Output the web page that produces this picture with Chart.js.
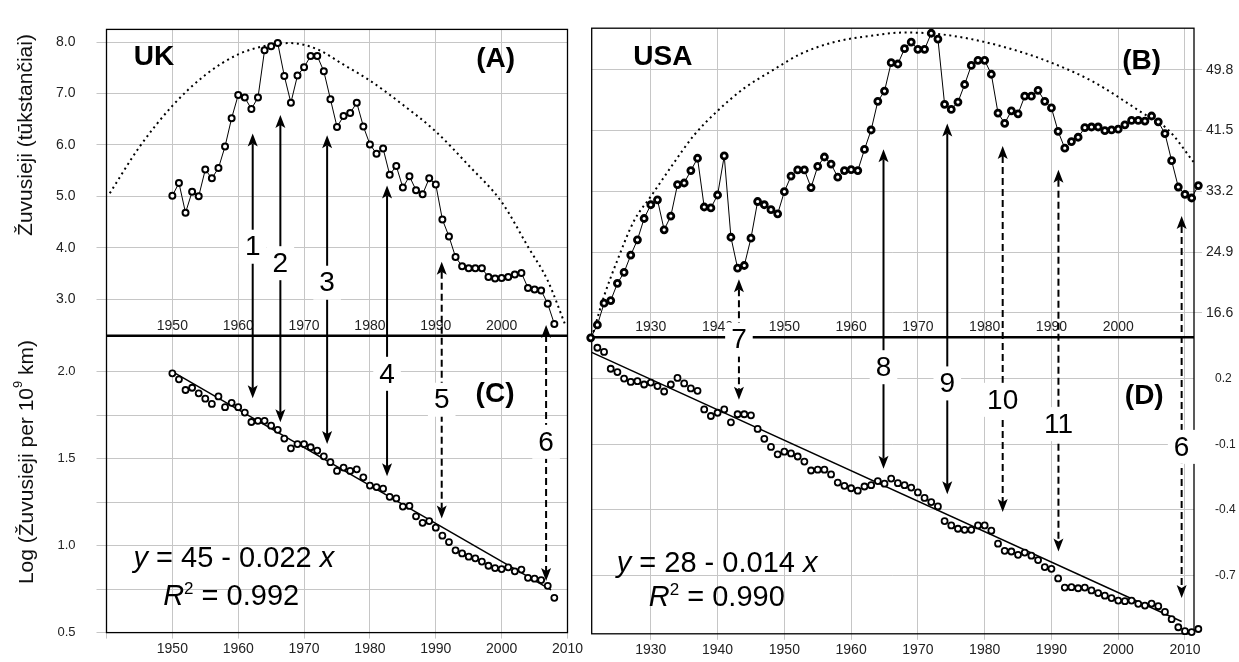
<!DOCTYPE html>
<html>
<head>
<meta charset="utf-8">
<script src="https://cdn.jsdelivr.net/npm/chart.js@4.4.0/dist/chart.umd.min.js"></script>
<style>
  html, body { margin: 0; padding: 0; background: #fff; }
  #wrap { position: relative; width: 1239px; height: 662px; }
  #wrap canvas { position: absolute; left: 0; top: 0; }
</style>
</head>
<body>
<div id="wrap">
  <canvas id="ukChart" width="1239" height="662"></canvas>
  <canvas id="usChart" width="1239" height="662"></canvas>
</div>
<script>
/* ---------- data ---------- */
// UK, 1950-2008
const ukYears = [1950,1951,1952,1953,1954,1955,1956,1957,1958,1959,
  1960,1961,1962,1963,1964,1965,1966,1967,1968,1969,
  1970,1971,1972,1973,1974,1975,1976,1977,1978,1979,
  1980,1981,1982,1983,1984,1985,1986,1987,1988,1989,
  1990,1991,1992,1993,1994,1995,1996,1997,1998,1999,
  2000,2001,2002,2003,2004,2005,2006,2007,2008];
// (A) deaths, thousands
const ukDeaths = [5.01,5.26,4.68,5.09,5.00,5.52,5.35,5.55,5.97,6.52,
  6.97,6.92,6.70,6.92,7.84,7.92,7.98,7.34,6.82,7.35,
  7.51,7.73,7.73,7.43,6.89,6.35,6.56,6.62,6.82,6.36,
  6.01,5.83,5.93,5.42,5.59,5.17,5.39,5.12,5.04,5.35,
  5.23,4.55,4.22,3.82,3.64,3.60,3.60,3.60,3.43,3.40,
  3.41,3.43,3.48,3.51,3.22,3.19,3.17,2.91,2.52];
// (C) log deaths per 10^9 km
const ukLogRate = [1.99,1.955,1.894,1.907,1.875,1.844,1.814,1.857,1.795,1.820,
  1.795,1.764,1.71,1.717,1.717,1.689,1.665,1.615,1.559,1.583,
  1.583,1.565,1.546,1.513,1.479,1.429,1.448,1.429,1.438,1.392,
  1.345,1.336,1.327,1.28,1.271,1.224,1.228,1.168,1.131,1.141,
  1.103,1.057,1.02,0.973,0.955,0.936,0.927,0.908,0.884,0.871,
  0.865,0.875,0.852,0.862,0.815,0.810,0.802,0.769,0.70];
// dotted fitted curve in (A)
const ukFitX = [1940.5,1945,1950,1955,1960,1965,1968,1972,1976,1980,1985,1990,1995,2000,2004,2007,2009.6];
const ukFitY = [5.06,5.96,6.76,7.36,7.76,7.95,7.98,7.86,7.56,7.25,6.78,6.26,5.60,4.89,4.02,3.36,2.52];
// regression line in (C)
const ukTrendX = [1950, 2007.5];
const ukTrendY = [2.0, 0.745];

// USA, 1920-2012
const usYears = [1920,1921,1922,1923,1924,1925,1926,1927,1928,1929,
  1930,1931,1932,1933,1934,1935,1936,1937,1938,1939,
  1940,1941,1942,1943,1944,1945,1946,1947,1948,1949,
  1950,1951,1952,1953,1954,1955,1956,1957,1958,1959,
  1960,1961,1962,1963,1964,1965,1966,1967,1968,1969,
  1970,1971,1972,1973,1974,1975,1976,1977,1978,1979,
  1980,1981,1982,1983,1984,1985,1986,1987,1988,1989,
  1990,1991,1992,1993,1994,1995,1996,1997,1998,1999,
  2000,2001,2002,2003,2004,2005,2006,2007,2008,2009,
  2010,2011,2012];
// (B) deaths, thousands
const usDeaths = [13.1,13.2,14.96,17.93,18.29,20.64,22.15,24.5,26.59,29.5,
  31.38,32.05,27.96,29.83,34.13,34.35,36.04,37.73,31.07,30.94,
  32.71,38.04,26.94,22.72,23.08,26.81,31.82,31.38,30.71,30.14,
  33.16,35.29,36.13,36.13,33.73,36.62,37.9,36.93,35.15,36.04,
  36.17,36.04,38.93,41.59,45.5,46.9,50.78,50.6,52.7,53.6,
  52.6,52.6,54.8,54.0,45.1,44.4,45.4,47.8,50.4,51.1,
  51.1,49.2,43.9,42.5,44.2,43.8,46.2,46.2,47.0,45.5,
  44.6,41.4,39.1,40.0,40.6,41.9,42.0,42.0,41.5,41.6,
  41.7,42.3,42.9,42.9,42.8,43.5,42.7,41.1,37.4,33.8,
  32.8,32.3,34.0];
// (D) log deaths per 10^9 km, 1922-2012
const usRateYears = usYears.slice(2);
const usLogRate = [0.341,0.322,0.245,0.230,0.200,0.185,0.188,0.173,
  0.182,0.166,0.141,0.173,0.203,0.178,0.155,0.144,0.059,0.029,
  0.044,0.059,0.0,0.037,0.037,0.032,-0.030,-0.075,-0.112,-0.146,
  -0.134,-0.142,-0.156,-0.179,-0.220,-0.216,-0.216,-0.238,-0.275,-0.290,
  -0.301,-0.312,-0.293,-0.287,-0.268,-0.280,-0.257,-0.278,-0.287,-0.298,
  -0.320,-0.345,-0.364,-0.384,-0.451,-0.471,-0.486,-0.491,-0.491,-0.471,
  -0.471,-0.495,-0.554,-0.587,-0.590,-0.605,-0.595,-0.609,-0.629,-0.661,
  -0.669,-0.713,-0.755,-0.753,-0.758,-0.755,-0.768,-0.780,-0.792,-0.803,
  -0.814,-0.817,-0.814,-0.829,-0.837,-0.828,-0.840,-0.866,-0.899,-0.936,
  -0.954,-0.958,-0.944];
const usFitX = [1921.4,1923,1925,1927.5,1930,1933,1936.5,1940,1944,1948,1952.5,1957.5,1962.5,1968,1973,1978,1983,1988.5,1996,2003.5,2007.5,2011.3];
const usFitY = [14.0,18.9,23.8,29.2,32.5,36.5,40.9,44.2,47.3,49.6,52.0,53.6,54.4,54.9,54.7,54.0,52.9,51.3,48.3,44.0,41.6,37.2];
const usTrendX = [1921.15, 2009.5];
const usTrendY = [0.32, -0.91];

// axis ticks
const ukXTicks = [1940,1950,1960,1970,1980,1990,2000,2010];
const ukTopYears = [1950,1960,1970,1980,1990,2000];
const usXTicks = [1930,1940,1950,1960,1970,1980,1990,2000,2010];
const usTopYears = [1930,1940,1950,1960,1970,1980,1990,2000];
const ukDeathTicks = [3,4,5,6,7,8];
const ukRateTicks = [0.5,0.75,1.0,1.25,1.5,1.75,2.0];
const usDeathTicks = [16.6,24.9,33.2,41.5,49.8];
const usRateTicks = [0.2,-0.1,-0.4,-0.7];

// numbered arrows: year, top end (upper panel), bottom end (lower panel), label height
const ukArrows = [
  {n:'1', x:1962.2, top:6.22, bot:1.847, ly:4.02, lp:'yA', dash:false},
  {n:'2', x:1966.4, top:6.58, bot:1.708, ly:3.70, lp:'yA', dash:false},
  {n:'3', x:1973.5, top:6.19, bot:1.583, ly:3.32, lp:'yA', dash:false},
  {n:'4', x:1982.6, top:5.21, bot:1.398, ly:1.987, lp:'yC', dash:false},
  {n:'5', x:1990.9, top:3.73, bot:1.156, ly:1.838, lp:'yC', dash:true},
  {n:'6', x:2006.75, top:2.50, bot:0.797, ly:1.596, lp:'yC', dash:true}
];
const usArrows = [
  {n:'7', x:1943.2, top:21.21, bot:0.103, ly:0.378, lp:'yD', dash:true},
  {n:'8', x:1964.85, top:38.95, bot:-0.212, ly:0.252, lp:'yD', dash:false},
  {n:'9', x:1974.4, top:42.49, bot:-0.328, ly:0.178, lp:'yD', dash:false},
  {n:'10', x:1982.7, top:39.39, bot:-0.409, ly:0.103, lp:'yD', dash:true},
  {n:'11', x:1991.05, top:36.16, bot:-0.590, ly:-0.008, lp:'yD', dash:true},
  {n:'6', x:2009.5, top:29.85, bot:-0.803, ly:-0.112, lp:'yD', dash:true}
];

const ukFit = {a:'45', b:'0.022', r2:'0.992'};
const usFit = {a:'28', b:'0.014', r2:'0.990'};

/* ---------- drawing helpers ---------- */
const FONT = "'Liberation Sans', Arial, sans-serif";
const GRID = '#c6c6c6';
Chart.defaults.font.family = FONT;
Chart.defaults.color = '#222';

const pts = (xs, ys) => xs.map((x, i) => ({x: x, y: ys[i]}));

function partsWidth(ctx, parts, size) {
  let w = 0;
  for (const [t, st] of parts) {
    const fs = st === 'sup' ? Math.round(size * 0.6) : size;
    ctx.font = (st === 'i' ? 'italic ' : '') + fs + 'px ' + FONT;
    w += ctx.measureText(t).width;
  }
  return w;
}

function drawParts(ctx, x, y, parts, size) {
  let cx = x;
  for (const [t, st] of parts) {
    const fs = st === 'sup' ? Math.round(size * 0.6) : size;
    ctx.font = (st === 'i' ? 'italic ' : '') + fs + 'px ' + FONT;
    ctx.fillText(t, cx, st === 'sup' ? y - size * 0.4 : y);
    cx += ctx.measureText(t).width;
  }
}

function vTitle(ctx, parts, cx, cy, size) {
  const w = partsWidth(ctx, parts, size);
  ctx.save();
  ctx.translate(cx, cy);
  ctx.rotate(-Math.PI / 2);
  ctx.textAlign = 'left';
  ctx.textBaseline = 'middle';
  ctx.fillStyle = '#111';
  drawParts(ctx, -w / 2, 0, parts, size);
  ctx.restore();
}

function arrow(ctx, x, y1, y2, dashed) {
  const hl = 13, hw = 5;
  ctx.save();
  ctx.strokeStyle = '#000';
  ctx.fillStyle = '#000';
  ctx.lineWidth = 2;
  ctx.setLineDash(dashed ? [7, 4] : []);
  ctx.beginPath();
  ctx.moveTo(x, y1 + hl - 3);
  ctx.lineTo(x, y2 - hl + 3);
  ctx.stroke();
  ctx.setLineDash([]);
  ctx.beginPath();
  ctx.moveTo(x, y1); ctx.lineTo(x - hw, y1 + hl); ctx.lineTo(x, y1 + hl - 3); ctx.lineTo(x + hw, y1 + hl);
  ctx.closePath(); ctx.fill();
  ctx.beginPath();
  ctx.moveTo(x, y2); ctx.lineTo(x - hw, y2 - hl); ctx.lineTo(x, y2 - hl + 3); ctx.lineTo(x + hw, y2 - hl);
  ctx.closePath(); ctx.fill();
  ctx.restore();
}

function boxedNumber(ctx, t, x, y) {
  ctx.save();
  ctx.font = '28px ' + FONT;
  const w = ctx.measureText(t).width + 12;
  ctx.fillStyle = '#fff';
  ctx.fillRect(x - w / 2, y - 17, w, 34);
  ctx.fillStyle = '#000';
  ctx.textAlign = 'center';
  ctx.textBaseline = 'middle';
  ctx.fillText(t, x, y + 1);
  ctx.restore();
}

function decor(cfg) {
  return {
    id: 'decor',
    beforeDatasetsDraw(chart) {
      const {ctx, chartArea: a, scales} = chart;
      const yDiv = scales[cfg.top].bottom;
      ctx.save();
      ctx.font = '14px ' + FONT;
      ctx.fillStyle = '#222';
      ctx.textAlign = 'center';
      ctx.textBaseline = 'middle';
      cfg.topYears.forEach(v => ctx.fillText(String(v), scales.x.getPixelForValue(v), yDiv - 10));
      ctx.strokeStyle = '#000';
      ctx.lineWidth = 1.3;
      ctx.strokeRect(a.left, a.top, a.right - a.left, a.bottom - a.top);
      ctx.lineWidth = 2.5;
      ctx.beginPath();
      ctx.moveTo(a.left, yDiv);
      ctx.lineTo(a.right, yDiv);
      ctx.stroke();
      ctx.restore();
    },
    afterDatasetsDraw(chart) {
      const {ctx, scales} = chart;
      const sx = scales.x, sTop = scales[cfg.top], sBot = scales[cfg.bottom];
      cfg.arrows.forEach(r => {
        arrow(ctx, sx.getPixelForValue(r.x), sTop.getPixelForValue(r.top), sBot.getPixelForValue(r.bot), r.dash);
      });
      cfg.arrows.forEach(r => {
        boxedNumber(ctx, r.n, sx.getPixelForValue(r.x), scales[r.lp].getPixelForValue(r.ly));
      });
      ctx.save();
      ctx.fillStyle = '#000';
      ctx.textAlign = 'center';
      ctx.textBaseline = 'middle';
      ctx.font = 'bold 28px ' + FONT;
      cfg.names.forEach(p => ctx.fillText(p.t, sx.getPixelForValue(p.x), scales[p.s].getPixelForValue(p.y)));
      ctx.textAlign = 'left';
      ctx.textBaseline = 'alphabetic';
      const e = cfg.eq;
      drawParts(ctx, sx.getPixelForValue(e.x1), sBot.getPixelForValue(e.y1),
        [['y', 'i'], [' = ' + e.fit.a + ' - ' + e.fit.b + ' ', ''], ['x', 'i']], 29);
      drawParts(ctx, sx.getPixelForValue(e.x2), sBot.getPixelForValue(e.y2),
        [['R', 'i'], ['2', 'sup'], [' = ' + e.fit.r2, '']], 29);
      ctx.restore();
      if (cfg.titles) {
        vTitle(ctx, [['Žuvusieji (tūkstančiai)', '']], 26.5, 135, 21);
        vTitle(ctx, [['Log (Žuvusieji per 10', ''], ['9', 'sup'], [' km)', '']], 27, 462, 21);
      }
    }
  };
}

function yearTicks(list) {
  return s => { s.ticks = list.map(v => ({value: v})); };
}

/* ---------- UK: panels A (top) and C (bottom) ---------- */
new Chart(document.getElementById('ukChart'), {
  type: 'line',
  data: {
    datasets: [
      { data: pts(ukYears, ukDeaths), yAxisID: 'yA', borderColor: '#000', borderWidth: 1,
        pointRadius: 3, pointBorderWidth: 2, pointBackgroundColor: '#fff', pointBorderColor: '#000', tension: 0 },
      { data: pts(ukYears, ukLogRate), yAxisID: 'yC', showLine: false,
        pointRadius: 3, pointBorderWidth: 1.8, pointBackgroundColor: '#fff', pointBorderColor: '#000' },
      { data: pts(ukFitX, ukFitY), yAxisID: 'yA', borderColor: '#000', borderWidth: 2,
        borderDash: [2, 3.6], pointRadius: 0, cubicInterpolationMode: 'monotone' },
      { data: pts(ukTrendX, ukTrendY), yAxisID: 'yC', borderColor: '#000', borderWidth: 1.5, pointRadius: 0 }
    ]
  },
  options: {
    responsive: false,
    animation: false,
    events: [],
    layout: { padding: { left: 0, top: 16, right: 671.5, bottom: 0 } },
    plugins: { legend: { display: false }, tooltip: { enabled: false } },
    scales: {
      x: {
        type: 'linear', min: 1940, max: 2010,
        afterBuildTicks: yearTicks(ukXTicks),
        afterFit: s => { s.height = 26; },
        grid: { color: GRID, tickLength: 6 },
        border: { display: false },
        ticks: { callback: v => v === 1940 ? '' : String(v), font: { size: 14 }, padding: 2, maxRotation: 0, autoSkip: false }
      },
      yC: {
        type: 'linear', position: 'left', stack: 'uk', stackWeight: 305, weight: 0,
        min: 0.5, max: 2.205,
        afterBuildTicks: s => { s.ticks = ukRateTicks.map(v => ({value: v})); },
        afterFit: s => { s.width = 106.5; },
        grid: { color: GRID, tickLength: 10 },
        border: { display: false },
        ticks: { callback: v => Math.abs(v * 2 - Math.round(v * 2)) < 1e-6 ? v.toFixed(1) : '', font: { size: 13 }, padding: 21 }
      },
      yA: {
        type: 'linear', position: 'left', stack: 'uk', stackWeight: 315, weight: 1,
        min: 2.287, max: 8.246,
        afterBuildTicks: s => { s.ticks = ukDeathTicks.map(v => ({value: v})); },
        afterFit: s => { s.width = 106.5; },
        grid: { color: GRID, tickLength: 10 },
        border: { display: false },
        ticks: { callback: v => v.toFixed(1), font: { size: 14 }, padding: 21 }
      }
    }
  },
  plugins: [decor({
    top: 'yA', bottom: 'yC', topYears: ukTopYears, arrows: ukArrows, titles: true,
    names: [ {t:'UK', x:1947.2, y:7.70, s:'yA'}, {t:'(A)', x:1999.1, y:7.67, s:'yA'}, {t:'(C)', x:1999.0, y:1.87, s:'yC'} ],
    eq: { fit: ukFit, x1: 1944.1, y1: 0.879, x2: 1948.6, y2: 0.658 }
  })]
});

/* ---------- USA: panels B (top) and D (bottom) ---------- */
new Chart(document.getElementById('usChart'), {
  type: 'line',
  data: {
    datasets: [
      { data: pts(usYears, usDeaths), yAxisID: 'yB', borderColor: '#000', borderWidth: 1, clip: false,
        pointRadius: 3, pointBorderWidth: 2.8, pointBackgroundColor: '#fff', pointBorderColor: '#000', tension: 0 },
      { data: pts(usRateYears, usLogRate), yAxisID: 'yD', showLine: false, clip: false,
        pointRadius: 3, pointBorderWidth: 1.8, pointBackgroundColor: '#fff', pointBorderColor: '#000' },
      { data: pts(usFitX, usFitY), yAxisID: 'yB', borderColor: '#000', borderWidth: 2,
        borderDash: [2, 3.6], pointRadius: 0, cubicInterpolationMode: 'monotone' },
      { data: pts(usTrendX, usTrendY), yAxisID: 'yD', borderColor: '#000', borderWidth: 1.5, pointRadius: 0 }
    ]
  },
  options: {
    responsive: false,
    animation: false,
    events: [],
    layout: { padding: { left: 591.7, top: 14, right: 0, bottom: 0 } },
    plugins: { legend: { display: false }, tooltip: { enabled: false } },
    scales: {
      x: {
        type: 'linear', min: 1921.15, max: 2011.35,
        afterBuildTicks: yearTicks(usXTicks),
        afterFit: s => { s.height = 27; },
        grid: { color: GRID, tickLength: 6 },
        border: { display: false },
        ticks: { callback: v => String(v), font: { size: 14 }, padding: 2, maxRotation: 0, autoSkip: false }
      },
      yB: {
        type: 'linear', position: 'right', stack: 'us', stackWeight: 317, weight: 0,
        min: 13.27, max: 55.49,
        afterBuildTicks: s => { s.ticks = usDeathTicks.map(v => ({value: v})); },
        afterFit: s => { s.width = 45; },
        grid: { color: GRID, tickLength: 8 },
        border: { display: false },
        ticks: { callback: v => v.toFixed(1), font: { size: 14 }, padding: 4 }
      },
      yD: {
        type: 'linear', position: 'right', stack: 'us', stackWeight: 304, weight: 1,
        min: -0.966, max: 0.3885,
        afterBuildTicks: s => { s.ticks = usRateTicks.map(v => ({value: v})); },
        afterFit: s => { s.width = 45; },
        grid: { color: GRID, drawTicks: false },
        border: { display: false },
        ticks: { callback: v => v.toFixed(1), font: { size: 12 }, padding: 21 }
      }
    }
  },
  plugins: [decor({
    top: 'yB', bottom: 'yD', topYears: usTopYears, arrows: usArrows, titles: false,
    names: [ {t:'USA', x:1931.8, y:51.5, s:'yB'}, {t:'(B)', x:2003.5, y:51.0, s:'yB'}, {t:'(D)', x:2003.9, y:0.121, s:'yD'} ],
    eq: { fit: usFit, x1: 1924.9, y1: -0.685, x2: 1929.7, y2: -0.840 }
  })]
});
</script>
</body>
</html>
